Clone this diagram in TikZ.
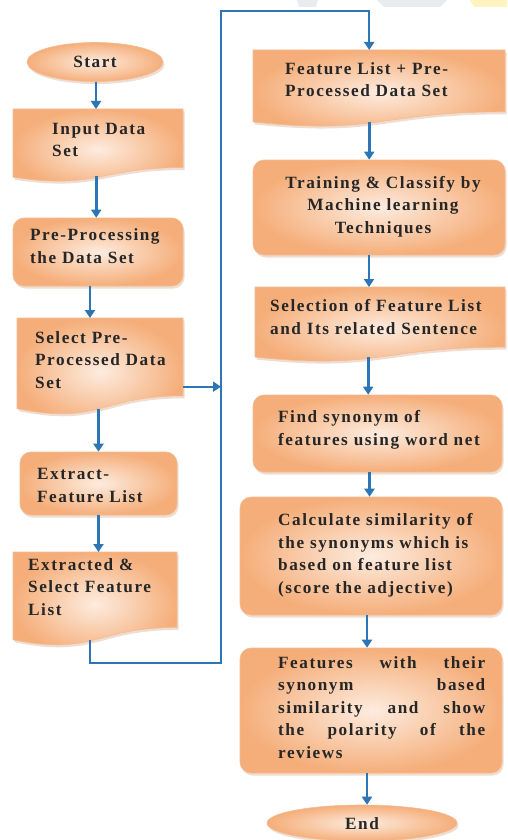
\documentclass[tikz,border=0pt]{standalone}
\usepackage{fontspec}
\setmainfont{Liberation Serif}[LetterSpace=9]
\usetikzlibrary{arrows.meta,shadows,shapes.geometric}
\definecolor{fl}{HTML}{2E75B6}
\definecolor{pkM}{HTML}{FDECDF}
\definecolor{pkB}{HTML}{F5AE7A}
\definecolor{pkE}{HTML}{F3BC92}
\definecolor{txtc}{HTML}{262626}
\definecolor{wmgray}{HTML}{E8ECEF}
\definecolor{wmyel}{HTML}{FFF3C0}
\tikzset{
 fillshape/.style={draw=pkE, line width=0.6pt, inner color=pkM, outer color=pkB,
   drop shadow={opacity=0.35, shadow xshift=1.5pt, shadow yshift=-2.5pt, fill=pkB!70!gray}},
 rbox/.style={fillshape, rounded corners=11pt, inner sep=0},
 term/.style={fillshape, ellipse, inner sep=0},
 anchorbox/.style={inner sep=0, draw=none},
 lbl/.style={inner sep=0, text=txtc, font=\bfseries\fontsize{17.2}{22.5}\selectfont, align=left, anchor=base west},
 arr/.style={draw=fl, line width=2.8pt, -{Triangle[width=10pt,length=8pt]}},
 conn/.style={draw=fl, line width=2pt, -{Triangle[width=10pt,length=8pt]}},
}
\newcommand\docshape[5]{%
  \pgfmathsetmacro\dxm{(#2+#4)/2}%
  \pgfmathsetmacro\dyr{#3+0.802*#5}%
  \pgfmathsetmacro\dyd{#3+1.1075*#5}%
  \pgfmathsetmacro\dyl{#3+0.934*#5}%
  \pgfmathsetmacro\dw{#4-#2}%
  \path[fillshape] (#2,#3) -- (#4,#3) -- (#4,\dyr) .. controls (\dxm,\dyr) and (\dxm,\dyd) .. (#2,\dyl) -- cycle;
  \node[anchorbox, minimum width=\dw pt, minimum height=#5pt, anchor=north west] (#1) at (#2,#3) {};%
}
\newcommand\jline[1]{\makebox[207pt][s]{#1}}
\begin{document}
\begin{tikzpicture}[x=1pt,y=-1pt]
\useasboundingbox (0,0) rectangle (507,840);
\fill[white] (0,0) rectangle (507,840);
% faint watermark
\fill[wmgray] (297,0) -- (318,0) -- (316,7) -- (299,7) -- cycle;
\fill[wmgray] (377,0) -- (447,0) -- (440,7) -- (384,7) -- cycle;
\fill[wmyel] (470,0) -- (507,0) -- (507,7) -- (474,7) -- cycle;

% left column
\node[term, minimum width=136pt, minimum height=39pt] (start) at (95,62) {};
\docshape{input}{13}{109}{183}{73}
\node[rbox, minimum width=170pt, minimum height=68pt] (pre) at (98,252) {};
\docshape{select}{17}{318}{183}{97}
\node[rbox, minimum width=157pt, minimum height=63pt] (extract) at (98.5,483.5) {};
\docshape{extracted}{13}{552}{177}{94}

% right column
\docshape{featlist}{253}{50}{505}{77}
\node[rbox, minimum width=252pt, minimum height=95pt] (training) at (379,207.5) {};
\docshape{selection}{255}{287}{505}{75}
\node[rbox, minimum width=249pt, minimum height=77pt] (find) at (377.5,433.5) {};
\node[rbox, minimum width=262pt, minimum height=118pt] (calc) at (371,556) {};
\node[rbox, minimum width=262pt, minimum height=125pt] (feat) at (371,710.5) {};
\node[term, minimum width=190pt, minimum height=36pt] (end) at (362,823) {};

% route coordinates
\coordinate (busb) at (221,663);
\coordinate (bust) at (221,11);

% arrows left
\draw[arr] ([xshift=1pt]start.south) -- ([xshift=1pt]start.south |- input.north);
\draw[arr] ([xshift=-2pt,yshift=6pt]input.south) -- ([xshift=-2pt]input.south |- pre.north);
\draw[arr] ([xshift=-8pt]pre.south) -- ([xshift=-8pt]pre.south |- select.north);
\draw[arr] ([yshift=6pt]select.south -| extract.north) -- (extract.north);
\draw[arr] (extract.south) -- (extract.south |- extracted.north);
\draw[conn] ([yshift=-20pt]select.east) -- ([yshift=-20pt]select.east -| busb);
\draw[conn] ([xshift=-5pt,yshift=6pt]extracted.south) |- (busb) -- (bust) -| ([xshift=-10pt]featlist.north);

% arrows right
\draw[arr] ([xshift=-10pt,yshift=5pt]featlist.south) -- ([xshift=-10pt]featlist.south |- training.north);
\draw[arr] ([xshift=-10pt]training.south) -- ([xshift=-10pt]training.south |- selection.north);
\draw[arr] ([xshift=-12pt,yshift=5pt]selection.south) -- ([xshift=-12pt]selection.south |- find.north);
\draw[arr] ([xshift=-8pt]find.south) -- ([xshift=-8pt]find.south |- calc.north);
\draw[arr] ([xshift=-4pt]calc.south) -- ([xshift=-4pt]calc.south |- feat.north);
\draw[arr] ([xshift=-4pt]feat.south) -- ([xshift=-4pt]feat.south |- end.north);

% texts (anchored at the baseline of the last line)
\node[lbl, anchor=base] (start-t) at (95,68) {Start};
\node[lbl] (input-t) at (52,157) {Input Data\\Set};
\node[lbl] (pre-t) at (30,263) {Pre-Processing\\the Data Set};
\node[lbl] (select-t) at (35,388) {Select Pre-\\Processed Data\\Set};
\node[lbl] (extract-t) at (37,502) {Extract-\\Feature List};
\node[lbl] (extracted-t) at (28,615) {Extracted \&\\Select Feature\\List};
\node[lbl] (featlist-t) at (285,97) {Feature List + Pre-\\Processed Data Set};
\node[lbl, align=center, anchor=base] (training-t) at (383,233) {Training \& Classify by\\Machine learning\\Techniques};
\node[lbl] (selection-t) at (270,334) {Selection of Feature List\\and Its related Sentence};
\node[lbl] (find-t) at (278,445) {Find synonym of\\features using word net};
\node[lbl] (calc-t) at (278,593) {Calculate similarity of\\the synonyms which is\\based on feature list\\(score the adjective)};
\node[lbl] (feat-t) at (278,758) {\jline{Features with their}\\\jline{synonym based}\\\jline{similarity and show}\\\jline{the polarity of the}\\reviews};
\node[lbl, anchor=base] (end-t) at (362,829) {End};
\end{tikzpicture}
\end{document}
